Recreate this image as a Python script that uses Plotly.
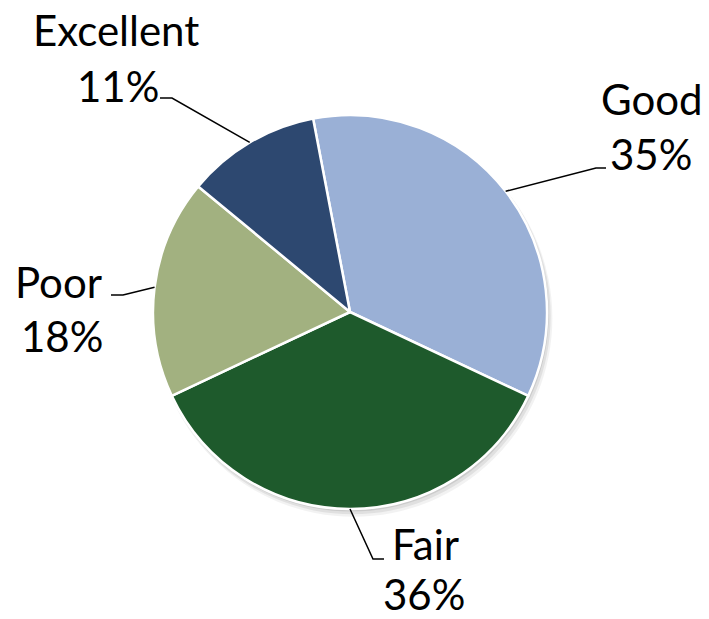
import math
import plotly.graph_objects as go

# ---- data ----
categories = ["Good", "Fair", "Poor", "Excellent"]
shares = [35, 36, 18, 11]
percent_labels = ["35%", "36%", "18%", "11%"]

colors = ["#9AB0D6", "#1E5A2C", "#A2B180", "#2D4870"]

W, H = 709, 619
CX, CY, R = 350, 312, 197
ROT = -10.8  # start angle of first slice (degrees clockwise from 12 o'clock)

def px(x):
    return x / W

def py(y):
    return 1 - y / H

def dom(cx, cy, r):
    return dict(x=[px(cx - r), px(cx + r)], y=[py(cy + r), py(cy - r)])

fig = go.Figure()

# soft shadow layers
for off, op in [(6, 0.05), (4, 0.07), (2, 0.09)]:
    fig.add_trace(go.Pie(values=[1], marker=dict(colors=["#000000"]), opacity=op,
                         domain=dom(CX + off * 0.6, CY + off, R + off * 0.3),
                         textinfo="none", hoverinfo="skip", showlegend=False, sort=False))

fig.add_trace(go.Pie(
    labels=categories, values=shares, sort=False, direction="clockwise", rotation=ROT,
    marker=dict(colors=colors, line=dict(color="white", width=2.5)),
    textinfo="none", showlegend=False, domain=dom(CX, CY, R),
))

# label layout (pixel positions of elbow, end of leader, name line and percent line)
label_layout = {
    "Good":      dict(elbow=(596, 168), end=(606, 168), name=(652, 99), pct=(651, 154)),
    "Fair":      dict(elbow=(373, 559), end=(384, 559), name=(426, 544), pct=(424, 594)),
    "Poor":      dict(elbow=(123, 295), end=(111, 295), name=(58, 282), pct=(62, 336)),
    "Excellent": dict(elbow=(172, 98), end=(160, 98), name=(116, 30), pct=(118, 86)),
}

total = sum(shares)
cum = 0
shapes = []
annotations = []
for cat, v, pct in zip(categories, shares, percent_labels):
    mid = ROT + (cum + v / 2) / total * 360
    cum += v
    a = math.radians(mid)
    ax, ay = CX + R * math.sin(a), CY - R * math.cos(a)
    L = label_layout[cat]
    (ex, ey), (tx, ty) = L["elbow"], L["end"]
    shapes.append(dict(type="path", xref="paper", yref="paper",
                       path=f"M {px(ax)} {py(ay)} L {px(ex)} {py(ey)} L {px(tx)} {py(ty)}",
                       line=dict(color="black", width=1.5)))
    for txt, key in [(cat, "name"), (pct, "pct")]:
        x_, y_ = L[key]
        annotations.append(dict(x=px(x_), y=py(y_), xref="paper", yref="paper",
                                text=txt, showarrow=False,
                                xanchor="center", yanchor="middle",
                                font=dict(family="Lato", size=42, color="black")))

fig.update_layout(width=W, height=H, margin=dict(l=0, r=0, t=0, b=0),
                  paper_bgcolor="white", plot_bgcolor="white",
                  shapes=shapes, annotations=annotations)

fig.write_html("out.html", config={"displayModeBar": False},
               post_script="document.body.style.margin='0';")
